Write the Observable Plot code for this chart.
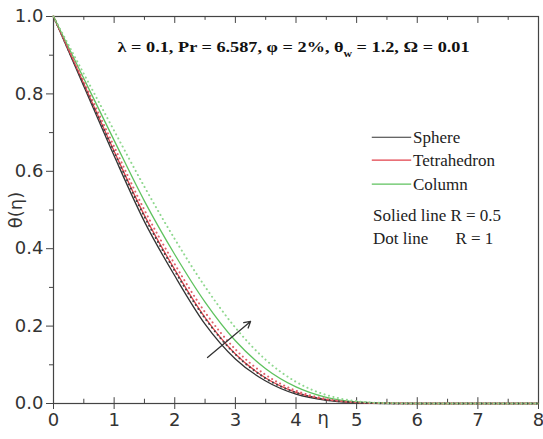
<!DOCTYPE html>
<html><head><meta charset="utf-8">
<script src="https://cdn.jsdelivr.net/npm/d3@7"></script>
<script src="https://cdn.jsdelivr.net/npm/@observablehq/plot@0.6"></script>
<style>body{margin:0;background:#fff}svg{display:block}</style>
</head><body><div id="chart"></div>
<script>
const eta = [0,0.5,1,1.5,2,2.5,3,3.5,4,4.5,5,5.5,6,6.5,7,7.5,8];
const sphereR05  = [1,0.820,0.640,0.470,0.330,0.205,0.115,0.058,0.024,0.008,0.002,0,0,0,0,0,0];
const sphereR1   = [1,0.825,0.650,0.483,0.343,0.220,0.127,0.065,0.028,0.010,0.003,0.0005,0,0,0,0,0];
const tetraR05   = [1,0.826,0.652,0.486,0.346,0.222,0.128,0.066,0.029,0.010,0.003,0.0005,0,0,0,0,0];
const tetraR1    = [1,0.832,0.664,0.500,0.360,0.236,0.140,0.074,0.033,0.012,0.003,0.001,0,0,0,0,0];
const columnR05  = [1,0.840,0.680,0.523,0.385,0.262,0.162,0.090,0.043,0.016,0.004,0.001,0,0,0,0,0];
const columnR1   = [1,0.852,0.705,0.560,0.425,0.302,0.196,0.113,0.056,0.022,0.006,0.001,0,0,0,0,0];
const shapes = ["Sphere","Tetrahedron","Column"];
const shapeColors = ["#333333","#e2404a","#5ec25e"];
const dotColors = ["#444444","#e0606a","#8fd88f"];
const xTicks = [0,1,2,3,4,5,6,7,8];
const xMinor = [0.5,1.5,2.5,3.5,4.5,5.5,6.5,7.5];
const yTicks = [0,0.2,0.4,0.6,0.8,1.0];
const yMinor = [0.1,0.3,0.5,0.7,0.9];
const annotation = "λ = 0.1, Pr = 6.587, φ = 2%, θw = 1.2, Ω = 0.01";
const legendNotes = ["Solied line R = 0.5", "Dot line", "R = 1"];
const arrowStart = [2.54, 0.119];
const arrowEnd = [3.25, 0.212];

const series = [
  {name:"Sphere", R:0.5, v:sphereR05, c:shapeColors[0], dot:false},
  {name:"Tetrahedron", R:0.5, v:tetraR05, c:shapeColors[1], dot:false},
  {name:"Column", R:0.5, v:columnR05, c:shapeColors[2], dot:false},
  {name:"Sphere", R:1, v:sphereR1, c:dotColors[0], dot:true},
  {name:"Tetrahedron", R:1, v:tetraR1, c:dotColors[1], dot:true},
  {name:"Column", R:1, v:columnR1, c:dotColors[2], dot:true}
];
const lineMarks = series.map(s => Plot.line(eta.map((e,i)=>({eta:e, th:s.v[i]})), {
  x:"eta", y:"th", stroke:s.c, strokeWidth: s.dot ? 2 : 1.3,
  strokeDasharray: s.dot ? "0.1,4.5" : null, strokeLinecap: s.dot ? "round" : "butt",
  curve:"monotone-x"
}));

const legendY = [0.688, 0.629, 0.567];
const legendRows = shapes.map((n,i)=>({n, c:shapeColors[i], y:legendY[i]}));
const tickFont = "DejaVu Sans, sans-serif";
const serif = "Liberation Serif, Times New Roman, serif";

const plot = Plot.plot({
  width: 543, height: 439,
  marginLeft: 53, marginRight: 5, marginTop: 16, marginBottom: 36,
  x: {domain:[0,8]}, y: {domain:[0,1]},
  style: {fontFamily: tickFont, color:"#333"},
  marks: [
    Plot.frame({stroke:"#444", strokeWidth:1.2}),
    Plot.axisY(yTicks, {anchor:"left", tickSize:7, tickPadding:3, tickFormat:d=>d.toFixed(1), fontSize:18, label:null, stroke:"#444"}),
    Plot.axisY(yMinor, {anchor:"left", tickSize:4, tickFormat:()=>"", label:null, stroke:"#444"}),
    Plot.axisX(xTicks, {anchor:"bottom", tickSize:6, tickPadding:4, tickFormat:d=>String(d), fontSize:18, label:null, stroke:"#444"}),
    Plot.ruleX(xMinor, {x:d=>d, y1:0, y2:0.011, stroke:"#444"}),
    Plot.ruleX(xTicks, {x:d=>d, y1:0, y2:0.015, stroke:"#444"}),
    Plot.ruleX(xTicks, {x:d=>d, y1:1, y2:0.982, stroke:"#444"}),
    Plot.ruleX(xMinor, {x:d=>d, y1:1, y2:0.99, stroke:"#444"}),
    ...lineMarks,
    Plot.arrow([{a:arrowStart, b:arrowEnd}], {x1:d=>d.a[0], y1:d=>d.a[1], x2:d=>d.b[0], y2:d=>d.b[1], stroke:"#333", strokeWidth:1.3, headLength:8}),
    Plot.text(["η"], {x:[4.45], frameAnchor:"bottom", dy:20, fontSize:18, fill:"#333"}),
    Plot.text(["θ(η)"], {x:[0], y:[0.5], dx:-37, rotate:-90, fontSize:18, fill:"#333"}),
    Plot.text([annotation], {x:[3.96], y:[0.92], fontFamily:serif, fontWeight:"bold", fontSize:15.5, fill:"#111"}),
    Plot.link(legendRows, {x1:5.25, x2:5.9, y1:"y", y2:"y", stroke:"c", strokeWidth:1.2}),
    Plot.text(legendRows, {x:5.93, y:"y", text:"n", textAnchor:"start", fontFamily:serif, fontSize:17, fill:"#222"}),
    Plot.text([legendNotes[0]], {x:[5.27], y:[0.486], textAnchor:"start", fontFamily:serif, fontSize:17, fill:"#222"}),
    Plot.text([legendNotes[1]], {x:[5.27], y:[0.426], textAnchor:"start", fontFamily:serif, fontSize:17, fill:"#222"}),
    Plot.text([legendNotes[2]], {x:[6.63], y:[0.426], textAnchor:"start", fontFamily:serif, fontSize:17, fill:"#222"})
  ]
});
// subscript w in θw, stretch to the reference width
plot.querySelectorAll("text").forEach(t => {
  if (t.textContent === annotation) {
    const parts = annotation.split("θw");
    t.textContent = "";
    const ns = "http://www.w3.org/2000/svg";
    const a = document.createElementNS(ns,"tspan"); a.textContent = parts[0] + "θ";
    const b = document.createElementNS(ns,"tspan"); b.textContent = "w"; b.setAttribute("font-size","10"); b.setAttribute("dy","5");
    const c = document.createElementNS(ns,"tspan"); c.textContent = parts[1]; c.setAttribute("dy","-5");
    t.append(a,b,c);
    t.setAttribute("textLength","352");
    t.setAttribute("lengthAdjust","spacingAndGlyphs");
  }
});
document.getElementById("chart").append(plot);
</script></body></html>
